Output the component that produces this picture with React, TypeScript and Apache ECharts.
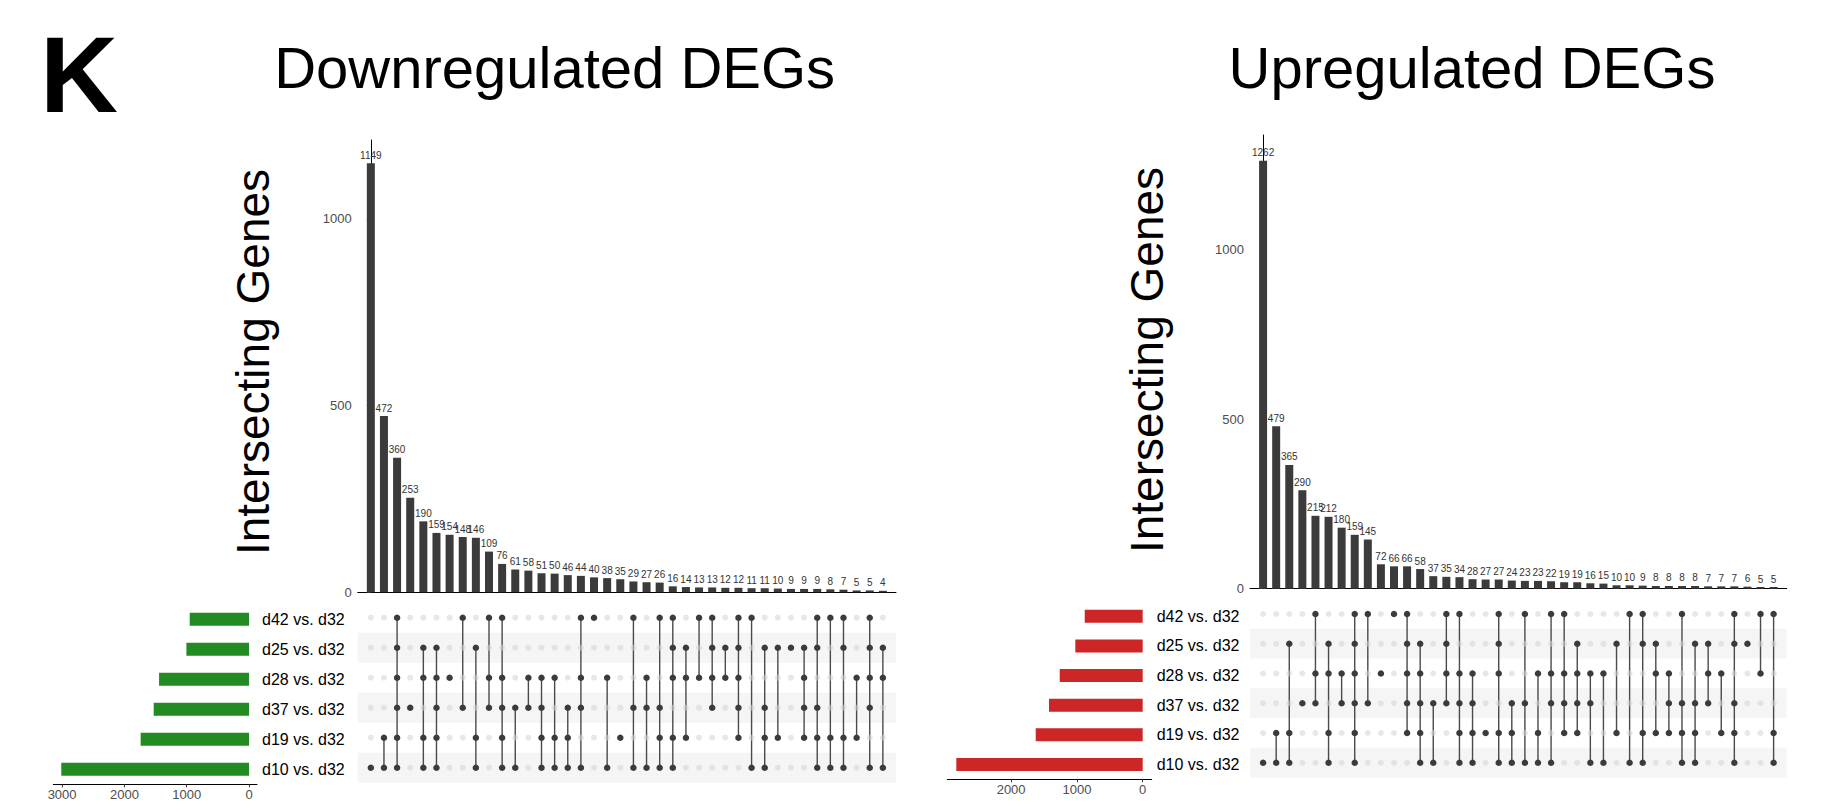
import React, { useEffect, useRef } from "react";
import * as echarts from "echarts";

// Sets, top row to bottom row
const setLabels = ["d42 vs. d32", "d25 vs. d32", "d28 vs. d32", "d37 vs. d32", "d19 vs. d32", "d10 vs. d32"];

// Downregulated DEGs
const downCounts = [1149, 472, 360, 253, 190, 159, 154, 148, 146, 109, 76, 61, 58, 51, 50, 46, 44, 40, 38, 35, 29, 27, 26, 16, 14, 13, 13, 12, 12, 11, 11, 10, 9, 9, 9, 8, 7, 5, 5, 4];
// membership per intersection column, chars follow setLabels order (1 = member)
const downMembership = [
  "000001", "000011", "111111", "000100", "011011", "011111", "001000", "100100", "010011", "101100",
  "101111", "000101", "001100", "001111", "001011", "000111", "101101", "100000", "001001", "000010",
  "100101", "001101", "100111", "111011", "011010", "101000", "111100", "011000", "111110", "100001",
  "010111", "010010", "010000", "011110", "110111", "100011", "110011", "001010", "111101", "011001",
];
const downSetSizes = [952, 1005, 1444, 1530, 1739, 3013];

// Upregulated DEGs
const upCounts = [1262, 479, 365, 290, 215, 212, 180, 159, 145, 72, 66, 66, 58, 37, 35, 34, 28, 27, 27, 24, 23, 23, 22, 19, 19, 16, 15, 10, 10, 9, 8, 8, 8, 8, 7, 7, 7, 6, 5, 5];
const upMembership = [
  "000001", "000011", "010011", "000100", "101100", "011011", "001100", "111111", "100100", "001000",
  "100000", "111110", "011111", "000101", "111100", "101111", "001111", "000010", "111011", "000111",
  "100101", "001011", "101101", "101110", "011110", "001101", "001001", "010010", "100001", "110011",
  "011010", "001110", "100111", "010111", "011100", "001010", "110111", "010000", "101000", "100011",
];
const upSetSizes = [881, 1024, 1261, 1424, 1626, 2833];

const shadedRows = [1, 3, 5];
const mainTicks = [0, 500, 1000];
const downSizeTicks = [0, 1000, 2000, 3000];
const upSizeTicks = [0, 1000, 2000];

const FONT = '"Liberation Sans", Arial, Helvetica, sans-serif';
const DARK = "#3b3b3b";
const plain = (v: number) => String(v);

type PanelCfg = {
  base: number;
  counts: number[];
  membership: string[];
  setSizes: number[];
  setColor: string;
  sizeTicks: number[];
  main: { left: number; top: number; width: number; height: number; max: number };
  matrix: { top: number; height: number };
  sizes: { left: number; width: number; top: number; height: number; min: number; max: number };
};

function buildPanel(c: PanelCfg) {
  const n = c.counts.length;
  const grids = [
    { left: c.main.left, top: c.main.top, width: c.main.width, height: c.main.height },
    { left: c.main.left, top: c.matrix.top, width: c.main.width, height: c.matrix.height },
    { left: c.sizes.left, top: c.sizes.top, width: c.sizes.width, height: c.sizes.height },
  ];
  const g0 = c.base, g1 = c.base + 1, g2 = c.base + 2;
  const xAxes = [
    {
      type: "value", gridIndex: g0, min: -1, max: n, axisLine: { show: true, onZero: true, lineStyle: { color: "#000", width: 1 } },
      axisTick: { show: false }, axisLabel: { show: false }, splitLine: { show: false },
    },
    {
      type: "value", gridIndex: g1, min: -1, max: n, show: false, splitLine: { show: false },
    },
    {
      type: "value", gridIndex: g2, inverse: true, min: c.sizes.min, max: c.sizes.max,
      axisLine: { show: true, onZero: false, lineStyle: { color: "#000", width: 1 } },
      axisTick: { show: true, length: 3, customValues: c.sizeTicks, lineStyle: { color: "#333" } },
      axisLabel: { customValues: c.sizeTicks, formatter: plain, fontSize: 13, color: "#4d4d4d", margin: 4, fontFamily: FONT },
      splitLine: { show: false },
    },
  ];
  const yAxes = [
    {
      type: "value", gridIndex: g0, min: 0, max: c.main.max,
      axisLine: { show: true, lineStyle: { color: "#000", width: 1 } },
      axisTick: { show: true, length: 4, customValues: mainTicks, lineStyle: { color: "#333" } },
      axisLabel: { customValues: mainTicks, formatter: plain, fontSize: 13, color: "#4d4d4d", margin: 6, fontFamily: FONT },
      splitLine: { show: false },
    },
    { type: "value", gridIndex: g1, min: -0.5, max: setLabels.length - 0.5, inverse: true, show: false, splitLine: { show: false } },
    {
      type: "category", gridIndex: g2, data: setLabels, inverse: true, position: "right",
      axisLine: { show: false }, axisTick: { show: false },
      axisLabel: { fontSize: 16, color: "#000", margin: 5, fontFamily: FONT },
    },
  ];
  const xBase = c.base;
  const active: number[][] = [];
  const inactive: number[][] = [];
  const links: number[][] = [];
  c.membership.forEach((m, col) => {
    const rows: number[] = [];
    for (let r = 0; r < setLabels.length; r++) {
      if (m[r] === "1") { active.push([col, r]); rows.push(r); } else inactive.push([col, r]);
    }
    if (rows.length > 1) links.push([col, Math.min(...rows), Math.max(...rows)]);
  });
  const series: any[] = [
    {
      type: "bar", xAxisIndex: xBase, yAxisIndex: xBase, barWidth: 8,
      data: c.counts.map((v, i) => [i, v]),
      itemStyle: { color: DARK },
      label: { show: true, position: "top", distance: 3, fontSize: 10, color: "#333", fontFamily: FONT, formatter: (p: any) => String(p.value[1]) },
    },
    {
      type: "custom", xAxisIndex: xBase + 1, yAxisIndex: xBase + 1, clip: false,
      data: shadedRows.map((r) => [0, r]),
      encode: { x: 0, y: 1 },
      renderItem: (_p: any, api: any) => {
        const r = api.value(1);
        const a = api.coord([-1, r - 0.5]);
        const b = api.coord([n, r + 0.5]);
        return { type: "rect", shape: { x: a[0], y: Math.min(a[1], b[1]), width: b[0] - a[0], height: Math.abs(b[1] - a[1]) }, style: { fill: "#f5f5f5" } };
      },
    },
    {
      type: "scatter", xAxisIndex: xBase + 1, yAxisIndex: xBase + 1, symbolSize: 6,
      data: inactive, itemStyle: { color: "#d4d4d4", opacity: 0.55 },
    },
    {
      type: "custom", xAxisIndex: xBase + 1, yAxisIndex: xBase + 1, clip: false,
      data: links, encode: { x: 0, y: [1, 2] },
      renderItem: (_p: any, api: any) => {
        const a = api.coord([api.value(0), api.value(1)]);
        const b = api.coord([api.value(0), api.value(2)]);
        return { type: "line", shape: { x1: a[0], y1: a[1], x2: b[0], y2: b[1] }, style: { stroke: "#4a4a4a", lineWidth: 1.4 } };
      },
    },
    {
      type: "scatter", xAxisIndex: xBase + 1, yAxisIndex: xBase + 1, symbolSize: 6.5,
      data: active, itemStyle: { color: DARK, opacity: 1 },
    },
    {
      type: "bar", xAxisIndex: xBase + 2, yAxisIndex: xBase + 2, barWidth: 13,
      data: c.setSizes, itemStyle: { color: c.setColor },
    },
  ];
  return { grids, xAxes, yAxes, series };
}

export default function App() {
  const ref = useRef<HTMLDivElement>(null);
  useEffect(() => {
    if (!ref.current) return;
    const chart = echarts.init(ref.current, undefined, { renderer: "svg" });
    const left = buildPanel({
      base: 0, counts: downCounts, membership: downMembership, setSizes: downSetSizes, setColor: "#228B22", sizeTicks: downSizeTicks,
      main: { left: 357.7, top: 140, width: 538.3, height: 452.3, max: 1211 },
      matrix: { top: 602.7, height: 180 },
      sizes: { left: 53.3, width: 203.7, top: 604.3, height: 180, min: -128, max: 3141 },
    });
    const right = buildPanel({
      base: 3, counts: upCounts, membership: upMembership, setSizes: upSetSizes, setColor: "#CD2626", sizeTicks: upSizeTicks,
      main: { left: 1250, top: 135, width: 536.7, height: 453.7, max: 1338 },
      matrix: { top: 599.1, height: 178.5 },
      sizes: { left: 947.3, width: 204.4, top: 601.5, height: 177.8, min: -137, max: 2970 },
    });
    chart.setOption({
      animation: false,
      backgroundColor: "#fff",
      grid: [...left.grids, ...right.grids],
      xAxis: [...left.xAxes, ...right.xAxes],
      yAxis: [...left.yAxes, ...right.yAxes],
      series: [...left.series, ...right.series],
      graphic: [
        { type: "text", x: 40, y: 74, style: { text: "K", fontSize: 108, fontWeight: "bold", fontFamily: FONT, fill: "#000", align: "left", verticalAlign: "middle" } },
        { type: "text", x: 554.6, y: 67.5, style: { text: "Downregulated DEGs", fontSize: 58, fontFamily: FONT, fill: "#000", align: "center", verticalAlign: "middle" } },
        { type: "text", x: 1472, y: 67.5, style: { text: "Upregulated DEGs", fontSize: 58, fontFamily: FONT, fill: "#000", align: "center", verticalAlign: "middle" } },
        { type: "text", x: 253, y: 362, rotation: Math.PI / 2, style: { text: "Intersecting Genes", fontSize: 46, fontFamily: FONT, fill: "#000", align: "center", verticalAlign: "middle" } },
        { type: "text", x: 1147, y: 360, rotation: Math.PI / 2, style: { text: "Intersecting Genes", fontSize: 46, fontFamily: FONT, fill: "#000", align: "center", verticalAlign: "middle" } },
      ],
    });
    return () => chart.dispose();
  }, []);
  return <div ref={ref} style={{ position: "absolute", left: 0, top: 0, width: 1825, height: 804, background: "#fff" }} />;
}
